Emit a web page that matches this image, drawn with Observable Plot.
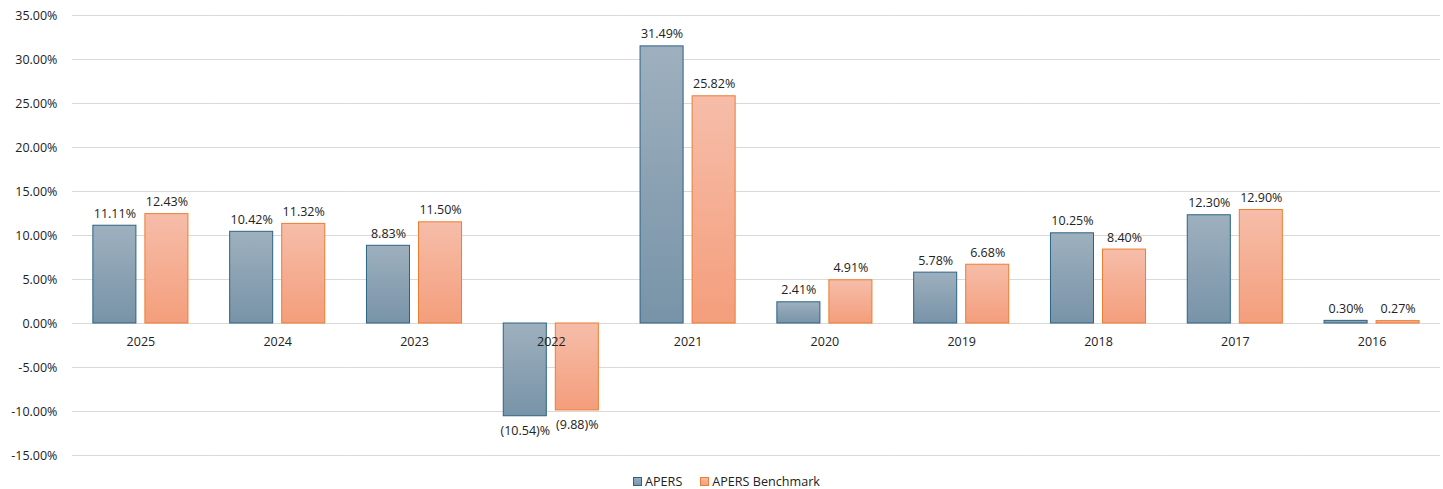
<!DOCTYPE html>
<html>
<head>
<meta charset="utf-8">
<script src="https://cdn.jsdelivr.net/npm/d3@7"></script>
<script src="https://cdn.jsdelivr.net/npm/@observablehq/plot@0.6"></script>
<style>
  body { margin: 0; background: #fff; font-family: "Open Sans", sans-serif; }
  #chart svg { display: block; }
  .legend { display: flex; justify-content: center; gap: 18px; font-size: 12.6px; color: #222; height: 15px; line-height: 15px; padding-left: 10px; }
  .legend span { display: inline-flex; align-items: center; }
  .sw { width: 9px; height: 9px; margin-right: 3px; box-sizing: border-box; }
</style>
</head>
<body>
<div id="chart"></div>
<div class="legend">
  <span><i class="sw" style="background:linear-gradient(#9aacba,#7a95aa);border:1px solid #2a6384"></i>APERS</span>
  <span><i class="sw" style="background:linear-gradient(#f6bba7,#f4a07f);border:1px solid #ed7d31"></i>APERS Benchmark</span>
</div>
<script>
// Annual returns, newest year first
const years = ["2025", "2024", "2023", "2022", "2021", "2020", "2019", "2018", "2017", "2016"];
const apers = [11.11, 10.42, 8.83, -10.54, 31.49, 2.41, 5.78, 10.25, 12.30, 0.30];
const benchmark = [12.43, 11.32, 11.50, -9.88, 25.82, 4.91, 6.68, 8.40, 12.90, 0.27];
const seriesNames = ["APERS", "APERS Benchmark"];
const yTicks = [-15, -10, -5, 0, 5, 10, 15, 20, 25, 30, 35];

const rows = [];
years.forEach((year, i) => {
  rows.push({year, series: seriesNames[0], value: apers[i]});
  rows.push({year, series: seriesNames[1], value: benchmark[i]});
});

const fmtValue = v => v < 0 ? `(${Math.abs(v).toFixed(2)})%` : `${v.toFixed(2)}%`;
const fmtTick = v => `${v.toFixed(2)}%`;
const font = "'Open Sans', sans-serif";

// half of the gap between year groups, so gridlines run unbroken across groups
const halfGap = 20.9;

const chart = Plot.plot({
  width: 1443,
  height: 474,
  marginLeft: 72,
  marginRight: 3,
  marginTop: 15,
  marginBottom: 19,
  style: {fontFamily: font, fontSize: "12px", color: "#222", background: "#fff"},
  fx: {domain: years, paddingInner: 0.305, paddingOuter: 0.1525, round: false, axis: null},
  x: {domain: seriesNames, paddingInner: 0.173, paddingOuter: 0, round: false, axis: null},
  y: {domain: [-15, 35], axis: null},
  marks: [
    Plot.ruleY(yTicks, {y: d => d, stroke: "#d9d9d9", strokeWidth: 1, insetLeft: -halfGap, insetRight: -halfGap}),
    Plot.axisY(yTicks, {tickSize: 0, tickPadding: 15 + halfGap, tickFormat: fmtTick, label: null, fontSize: 12.5, fill: "#222"}),
    Plot.barY(rows.filter(d => d.series === seriesNames[0]), {
      fx: "year", x: "series", y: "value", fill: "url(#gradApers)", stroke: "#2a6384", strokeWidth: 1
    }),
    Plot.barY(rows.filter(d => d.series === seriesNames[1]), {
      fx: "year", x: "series", y: "value", fill: "url(#gradBench)", stroke: "#ed7d31", strokeWidth: 1
    }),
    Plot.text(years, {fx: d => d, y: () => 0, text: d => d, dy: 18, fontSize: 12.5, fill: "#222"}),
    Plot.text(rows.filter(d => d.value >= 0), {
      fx: "year", x: "series", y: "value", text: d => fmtValue(d.value), lineAnchor: "bottom", dy: -8, fontSize: 12.5, fill: "#222"
    }),
    Plot.text(rows.filter(d => d.value < 0), {
      fx: "year", x: "series", y: "value", text: d => fmtValue(d.value), lineAnchor: "top", dy: 10, fontSize: 12.5, fill: "#222"
    })
  ]
});

// Vertical gradients used as bar fills
const defs = d3.select(chart).insert("defs", ":first-child");
[["gradApers", "#9eb0be", "#7893a8"], ["gradBench", "#f6bda9", "#f49e7c"]].forEach(([id, top, bottom]) => {
  const g = defs.append("linearGradient").attr("id", id).attr("x1", 0).attr("y1", 0).attr("x2", 0).attr("y2", 1);
  g.append("stop").attr("offset", "0%").attr("stop-color", top);
  g.append("stop").attr("offset", "100%").attr("stop-color", bottom);
});

document.getElementById("chart").appendChild(chart);
</script>
</body>
</html>
